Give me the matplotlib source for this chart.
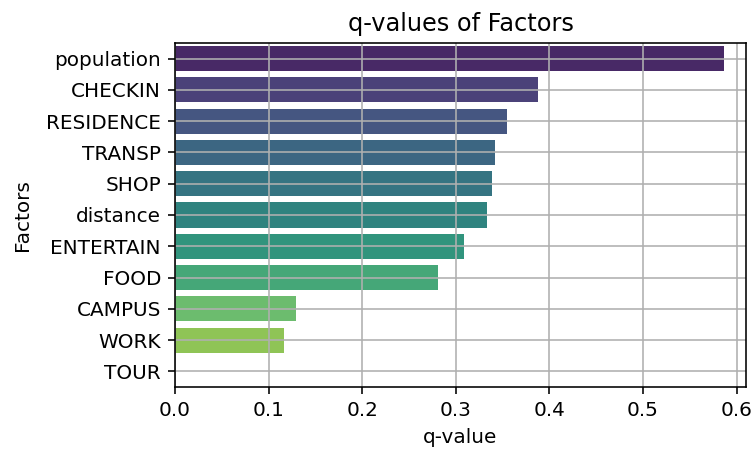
import matplotlib
matplotlib.use("Agg")
import matplotlib.pyplot as plt
import seaborn as sns
import pandas as pd

factors = ["population", "CHECKIN", "RESIDENCE", "TRANSP", "SHOP", "distance",
           "ENTERTAIN", "FOOD", "CAMPUS", "WORK", "TOUR"]
q_values = [0.587, 0.388, 0.355, 0.342, 0.339, 0.333, 0.309, 0.281, 0.129, 0.116, 0.0]

df = pd.DataFrame({"Factors": factors, "q-value": q_values})

# reference looks like it was saved at ~144 dpi with default font sizes
DPI = 144
fig = plt.figure(figsize=(753 / DPI, 451 / DPI), dpi=DPI)
ax = fig.add_axes([0.2324, 0.1419, 0.7583, 0.7628])
sns.barplot(data=df, x="q-value", y="Factors", hue="Factors", palette="viridis",
            legend=False, ax=ax)
ax.set_title("q-values of Factors")
ax.set_xlabel("q-value")
ax.set_ylabel("Factors", labelpad=7)
ax.grid(True)
ax.set_xlim(0, 0.61)

plt.savefig("out.png", dpi=DPI)
